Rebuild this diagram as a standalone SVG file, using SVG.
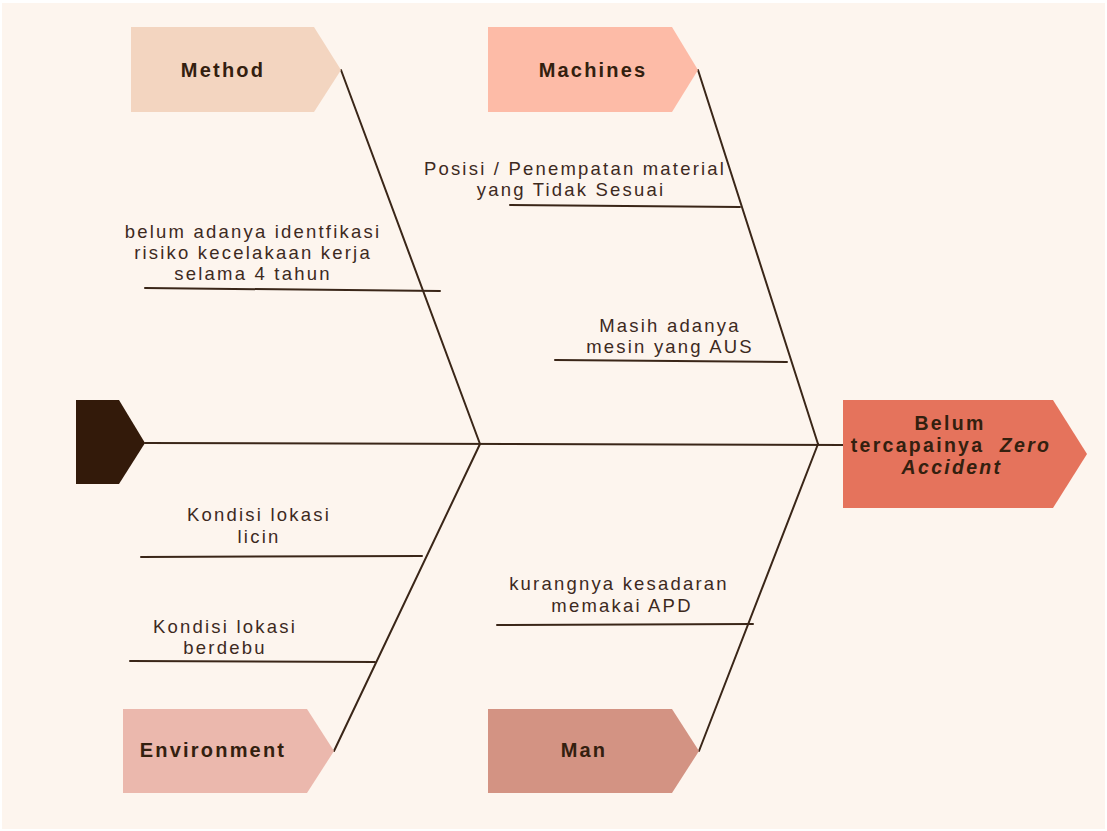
<svg xmlns="http://www.w3.org/2000/svg" width="1107" height="831" viewBox="0 0 1107 831">
<style>
.bg{fill:#FDF5EE}
.ln{stroke:#3A2618;stroke-width:2;fill:none;stroke-linecap:round}
.t{font-family:"Liberation Sans",Arial,sans-serif;font-size:18.5px;fill:#3D2A1E;text-anchor:middle;letter-spacing:2.2px}
.h{font-family:"Liberation Sans",Arial,sans-serif;font-size:20px;font-weight:bold;fill:#33200F;text-anchor:middle;letter-spacing:2.2px}
.hd{font-size:19.5px;letter-spacing:2.3px;white-space:pre}
.i{font-style:italic}
</style>
<rect width="1107" height="831" fill="#FFFFFF"/>
<rect class="bg" x="2" y="3" width="1103" height="826"/>
<g id="connectors">
<line class="ln" x1="145" y1="443" x2="843" y2="445"/>
<line class="ln" x1="341" y1="70" x2="480" y2="444"/>
<line class="ln" x1="698" y1="70" x2="818" y2="444"/>
<line class="ln" x1="334" y1="751" x2="480" y2="444"/>
<line class="ln" x1="699" y1="751" x2="818" y2="444"/>
<line class="ln" x1="145" y1="288" x2="440" y2="291"/>
<line class="ln" x1="510" y1="205" x2="740" y2="207"/>
<line class="ln" x1="555" y1="360" x2="787" y2="362"/>
<line class="ln" x1="141" y1="557" x2="422" y2="556"/>
<line class="ln" x1="130" y1="661" x2="375" y2="662"/>
<line class="ln" x1="497" y1="625" x2="753" y2="624"/>
</g>
<g id="tail"><polygon points="76,400 119,400 145,443 119,484 76,484" fill="#331A0A"/></g>
<g id="head">
<polygon points="843,400 1053,400 1087,454 1053,508 843,508" fill="#E5735C"/>
<text class="h hd" x="950" y="430">Belum</text>
<text class="h hd" x="951" y="452" xml:space="preserve">tercapainya  <tspan class="i">Zero</tspan></text>
<text class="h hd i" x="952" y="474">Accident</text>
</g>
<g id="method">
<polygon points="131,27 314,27 341,70 314,112 131,112" fill="#F3D5C0"/>
<text class="h" x="223" y="77">Method</text>
</g>
<g id="machines">
<polygon points="488,27 672,27 698,70 672,112 488,112" fill="#FDBBA7"/>
<text class="h" x="593" y="77">Machines</text>
</g>
<g id="environment">
<polygon points="123,709 307,709 334,751 307,793 123,793" fill="#EBB8AD"/>
<text class="h" x="213" y="757">Environment</text>
</g>
<g id="man">
<polygon points="488,709 672,709 699,751 672,793 488,793" fill="#D39383"/>
<text class="h" x="584" y="757">Man</text>
</g>
<g id="cause-method">
<text class="t" x="253" y="238">belum adanya identfikasi</text>
<text class="t" x="253" y="259">risiko kecelakaan kerja</text>
<text class="t" x="253" y="280">selama 4 tahun</text>
</g>
<g id="cause-machines-1">
<text class="t" x="575" y="175">Posisi / Penempatan material</text>
<text class="t" x="571" y="196">yang Tidak Sesuai</text>
</g>
<g id="cause-machines-2">
<text class="t" x="670" y="332">Masih adanya</text>
<text class="t" x="670" y="353">mesin yang AUS</text>
</g>
<g id="cause-env-1">
<text class="t" x="259" y="521">Kondisi lokasi</text>
<text class="t" x="259" y="543">licin</text>
</g>
<g id="cause-env-2">
<text class="t" x="225" y="633">Kondisi lokasi</text>
<text class="t" x="225" y="654">berdebu</text>
</g>
<g id="cause-man">
<text class="t" x="619" y="590">kurangnya kesadaran</text>
<text class="t" x="622" y="612">memakai APD</text>
</g>
</svg>
